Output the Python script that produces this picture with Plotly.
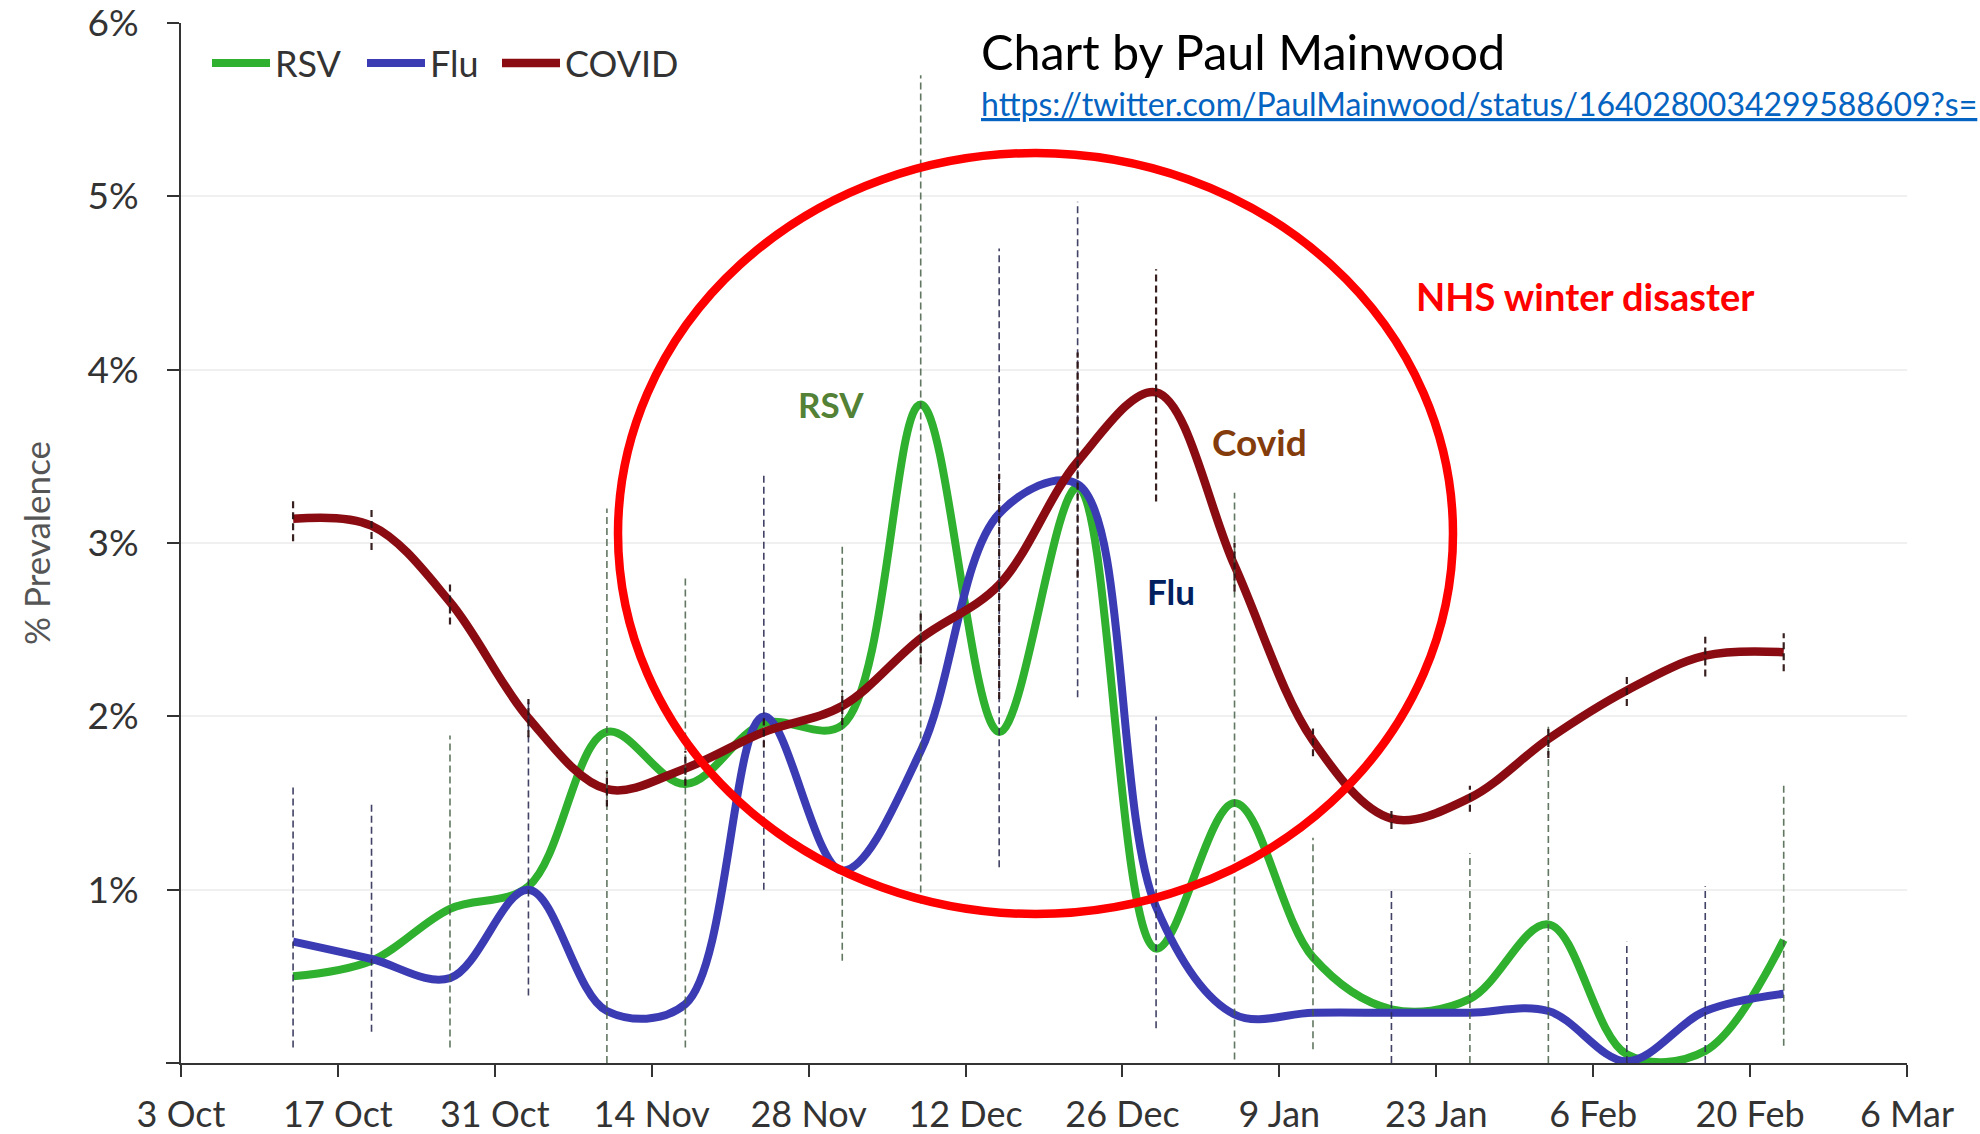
import plotly.graph_objects as go

# ---------------- data ----------------
dates = ['2022-10-13', '2022-10-20', '2022-10-27', '2022-11-03', '2022-11-10',
         '2022-11-17', '2022-11-24', '2022-12-01', '2022-12-08', '2022-12-15',
         '2022-12-22', '2022-12-29', '2023-01-05', '2023-01-12', '2023-01-19',
         '2023-01-26', '2023-02-02', '2023-02-09', '2023-02-16', '2023-02-23']

rsv = [0.50, 0.59, 0.89, 1.02, 1.91, 1.61, 1.96, 1.95, 3.80, 1.91,
       3.32, 0.66, 1.50, 0.61, 0.31, 0.37, 0.80, 0.05, 0.07, 0.71]
flu = [0.70, 0.60, 0.49, 1.00, 0.30, 0.34, 2.00, 1.11, 1.80, 3.17,
       3.34, 0.90, 0.28, 0.29, 0.29, 0.29, 0.30, 0.01, 0.30, 0.40]
covid = [3.14, 3.10, 2.66, 1.99, 1.58, 1.70, 1.91, 2.06, 2.45, 2.76,
         3.47, 3.87, 2.87, 1.86, 1.41, 1.53, 1.87, 2.15, 2.35, 2.37]

covid_lo = [3.01, 2.96, 2.53, 1.88, 1.48, 1.60, 1.82, 1.95, 2.30, 2.10,
            2.80, 3.24, 2.72, 1.77, 1.35, 1.45, 1.76, 2.06, 2.23, 2.26]
covid_hi = [3.26, 3.20, 2.77, 2.10, 1.68, 1.80, 2.00, 2.15, 2.60, 3.40,
            4.10, 4.58, 3.00, 1.93, 1.47, 1.60, 1.95, 2.25, 2.46, 2.48]
rsv_lo = [None, None, 0.09, None, 0.00, 0.09, None, 0.59, 0.92, None,
          None, None, 0.02, 0.08, None, 0.00, 0.00, None, None, 0.10]
rsv_hi = [None, None, 1.89, None, 3.20, 2.81, None, 2.98, 5.70, None,
          None, None, 3.29, 1.30, None, 1.21, 1.94, None, None, 1.61]
flu_lo = [0.09, 0.18, None, 0.39, None, None, 1.00, None, None, 1.13,
          2.11, 0.20, None, None, 0.00, None, None, 0.00, 0.00, None]
flu_hi = [1.60, 1.51, None, 2.08, None, None, 3.40, None, None, 4.70,
          4.97, 2.00, None, None, 1.00, None, None, 0.70, 1.02, None]

tick_dates = ['2022-10-03', '2022-10-17', '2022-10-31', '2022-11-14', '2022-11-28',
              '2022-12-12', '2022-12-26', '2023-01-09', '2023-01-23', '2023-02-06',
              '2023-02-20', '2023-03-06']
tick_text = ['3 Oct', '17 Oct', '31 Oct', '14 Nov', '28 Nov', '12 Dec',
             '26 Dec', '9 Jan', '23 Jan', '6 Feb', '20 Feb', '6 Mar']
y_ticks = [1, 2, 3, 4, 5, 6]
y_text = ['1%', '2%', '3%', '4%', '5%', '6%']

C_RSV = '#2fb12f'
C_FLU = '#3b3bb4'
C_COVID = '#8a0c12'


def bar_segments(xs, lo, hi):
    bx, by = [], []
    for x, a, b in zip(xs, lo, hi):
        if a is None or b is None:
            continue
        bx += [x, x, None]
        by += [a, b, None]
    return bx, by


fig = go.Figure()

# smooth lines (each in its own legend box so the spacing can follow the reference)
for name, vals, col, w, lg in [('RSV', rsv, C_RSV, 8, 'legend'),
                               ('Flu', flu, C_FLU, 8, 'legend2'),
                               ('COVID', covid, C_COVID, 8.5, 'legend3')]:
    fig.add_trace(go.Scatter(x=dates, y=vals, name=name, mode='lines', legend=lg,
                             line=dict(color=col, width=w, shape='spline', smoothing=1.0)))

# dashed error bars
for lo, hi, col, w in [(rsv_lo, rsv_hi, 'rgba(70,95,70,0.85)', 1.6),
                       (flu_lo, flu_hi, 'rgba(45,45,85,0.9)', 1.6),
                       (covid_lo, covid_hi, 'rgba(45,20,20,0.95)', 2.2)]:
    bx, by = bar_segments(dates, lo, hi)
    fig.add_trace(go.Scatter(x=bx, y=by, mode='lines', showlegend=False, hoverinfo='skip',
                             line=dict(color=col, width=w, dash='7px,4px')))

W, H = 1980, 1134
ml, mr, mt, mb = 181, 73, 23, 71
pw, ph = W - ml - mr, H - mt - mb


def px(x):
    return (x - ml) / pw


def py(y):
    return (H - mb - y) / ph


axis_font = dict(family='Lato, "Open Sans", sans-serif', size=36, color='#333333')
legend_font = dict(family='Lato, "Open Sans", sans-serif', size=36, color='#333333')


def legend_box(xpix):
    return dict(orientation='h', x=px(xpix), y=py(63), xanchor='left', yanchor='middle',
                font=legend_font, bgcolor='rgba(0,0,0,0)', itemwidth=58)


fig.update_layout(
    width=W, height=H,
    margin=dict(l=ml, r=mr, t=mt, b=mb, autoexpand=False),
    paper_bgcolor='white', plot_bgcolor='white',
    showlegend=True,
    legend=legend_box(207),
    legend2=legend_box(362),
    legend3=legend_box(497),
    xaxis=dict(type='date', range=['2022-10-03', '2023-03-06'], automargin=False,
               tickmode='array', tickvals=tick_dates, ticktext=tick_text,
               ticks='outside', ticklen=12, tickwidth=2, tickcolor='#333333',
               showline=True, linecolor='#333333', linewidth=2,
               showgrid=False, zeroline=False, tickfont=axis_font,
               ticklabelstandoff=7, ticklabeloverflow='allow'),
    yaxis=dict(range=[0, 6.001], automargin=False,
               tickmode='array', tickvals=y_ticks, ticktext=y_text,
               ticks='outside', ticklen=12, tickwidth=2, tickcolor='#333333',
               showline=True, linecolor='#333333', linewidth=2,
               showgrid=True, gridcolor='#f0f0f0', gridwidth=2, zeroline=False,
               tickfont=dict(axis_font, size=37), ticklabelstandoff=21,
               ticklabeloverflow='allow',
               title=dict(text='% Prevalence', standoff=26,
                          font=dict(family='Lato, "Open Sans", sans-serif', size=35,
                                    color='#555555'))),
)

# x-axis line overhang to the left of the y axis
fig.add_shape(type='line', xref='paper', yref='paper', x0=px(166), x1=0, y0=0, y1=0,
              line=dict(color='#333333', width=2))

# red ellipse
fig.add_shape(type='circle', xref='paper', yref='paper',
              x0=px(618), x1=px(1453), y0=py(914), y1=py(153),
              line=dict(color='#ff0000', width=8.5), fillcolor='rgba(0,0,0,0)')

calibri = 'Lato, Carlito, Calibri, "Open Sans", sans-serif'
annos = [
    dict(text='Chart by Paul Mainwood', x=px(979), y=py(51), size=48.5, color='#000000', xanchor='left'),
    dict(text='<u>https://twitter.com/PaulMainwood/status/1640280034299588609?s=</u>',
         x=px(979), y=py(104), size=32, color='#0563c1', xanchor='left'),
    dict(text='<b>NHS winter disaster</b>', x=px(1414), y=py(296), size=38, color='#ff0000', xanchor='left'),
    dict(text='<b>RSV</b>', x=px(831), y=py(404), size=35, color='#538135', xanchor='center'),
    dict(text='<b>Covid</b>', x=px(1259), y=py(441), size=37, color='#843c0c', xanchor='center'),
    dict(text='<b>Flu</b>', x=px(1171), y=py(591), size=35, color='#002060', xanchor='center'),
]
for a in annos:
    fig.add_annotation(text=a['text'], xref='paper', yref='paper', x=a['x'], y=a['y'],
                       xanchor=a['xanchor'], yanchor='middle', showarrow=False,
                       font=dict(family=calibri, size=a['size'], color=a['color']))

fig.write_html('out.html', config={'displayModeBar': False},
               post_script="document.body.style.margin='0';")
